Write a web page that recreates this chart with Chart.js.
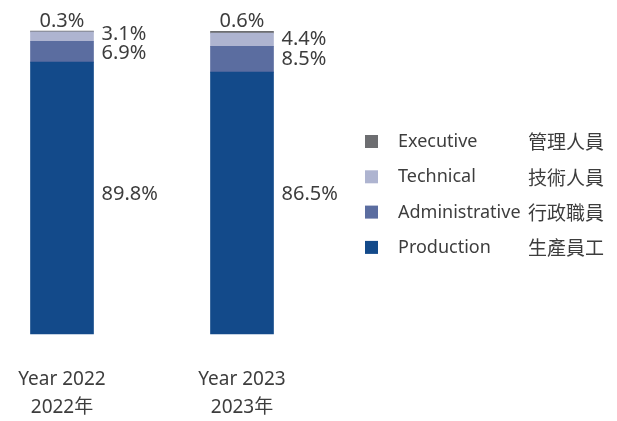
<!DOCTYPE html>
<html><head><meta charset="utf-8">
<script src="https://cdn.jsdelivr.net/npm/chart.js@4/dist/chart.umd.min.js"></script>
<style>html,body{margin:0;padding:0;background:#fff;}#wrap{width:617px;height:421px;position:relative;}</style>
</head><body><div id="wrap"><canvas id="c" width="617" height="421"></canvas></div>
<script>
const categories = [["Year 2022","2022年"],["Year 2023","2023年"]];
const seriesNames = ["Production","Administrative","Technical","Executive"];
const seriesNamesZh = ["生產員工","行政職員","技術人員","管理人員"];
const production = [89.8, 86.5];
const administrative = [6.9, 8.5];
const technical = [3.1, 4.4];
const executive = [0.3, 0.6];
const colors = ["#134A8A","#5B6DA0","#AEB4D0","#6D6E71"];

const FONT = "'Noto Sans', 'Noto Sans CJK TC', sans-serif";
const TXT = "#3d3d3d";

const labelPlugin = {
  id: 'vals',
  afterDatasetsDraw(chart) {
    const ctx = chart.ctx;
    ctx.save();
    ctx.font = "20px " + FONT;
    ctx.fillStyle = TXT;
    ctx.textBaseline = 'middle';
    const n = chart.data.labels.length;
    let prodY = Infinity;
    for (let i = 0; i < n; i++) {
      const p = chart.getDatasetMeta(0).data[i];
      prodY = Math.min(prodY, (p.y + p.base) / 2 - 4);
    }
    for (let i = 0; i < n; i++) {
      const els = chart.data.datasets.map((d, k) => chart.getDatasetMeta(k).data[i]);
      const vals = chart.data.datasets.map(d => d.data[i]);
      const right = els[0].x + els[0].width / 2;
      const ex = els[3];
      ctx.textAlign = 'center';
      ctx.fillText(vals[3].toFixed(1) + '%', ex.x, ex.y - 10);
      let cT = (els[2].y + els[2].base) / 2, cA = (els[1].y + els[1].base) / 2;
      if (cA - cT < 19) { const m = (cA + cT) / 2; cT = m - 9.5; cA = m + 9.5; }
      ctx.textAlign = 'left';
      ctx.fillText(vals[2].toFixed(1) + '%', right + 8, cT);
      ctx.fillText(vals[1].toFixed(1) + '%', right + 8, cA);
      ctx.fillText(vals[0].toFixed(1) + '%', right + 8, prodY);
    }
    const order = [3, 2, 1, 0];
    order.forEach((k, j) => {
      const y = 142 + j * 35.3;
      ctx.fillStyle = colors[k];
      ctx.fillRect(365, y - 7, 13, 13);
      ctx.fillStyle = TXT;
      ctx.textAlign = 'left';
      ctx.font = "18px " + FONT;
      ctx.fillText(seriesNames[k], 398, y);
      ctx.font = "19px 'Noto Sans CJK TC', sans-serif";
      ctx.fillText(seriesNamesZh[k], 528, y);
    });
    ctx.restore();
  }
};

new Chart(document.getElementById('c'), {
  type: 'bar',
  data: {
    labels: categories,
    datasets: [
      { label: seriesNames[0], data: production, backgroundColor: colors[0] },
      { label: seriesNames[1], data: administrative, backgroundColor: colors[1] },
      { label: seriesNames[2], data: technical, backgroundColor: colors[2] },
      { label: seriesNames[3], data: executive, backgroundColor: colors[3] }
    ].map(d => Object.assign(d, { barThickness: 63, borderWidth: 0, clip: false }))
  },
  options: {
    responsive: false,
    animation: false,
    events: [],
    layout: { padding: { left: 62, right: 375, top: 31, bottom: 0 } },
    plugins: { legend: { display: false }, tooltip: { enabled: false } },
    scales: {
      x: {
        stacked: true, offset: false,
        grid: { display: false }, border: { display: false },
        ticks: { color: TXT, font: { family: FONT, size: 19, lineHeight: '28px' }, padding: 24, maxRotation: 0, autoSkip: false },
        afterFit(s) { s.height = 87; s.paddingLeft = 0; s.paddingRight = 0; }
      },
      y: { stacked: true, display: false, min: 0, max: 100.1 }
    }
  },
  plugins: [labelPlugin]
});
</script></body></html>
